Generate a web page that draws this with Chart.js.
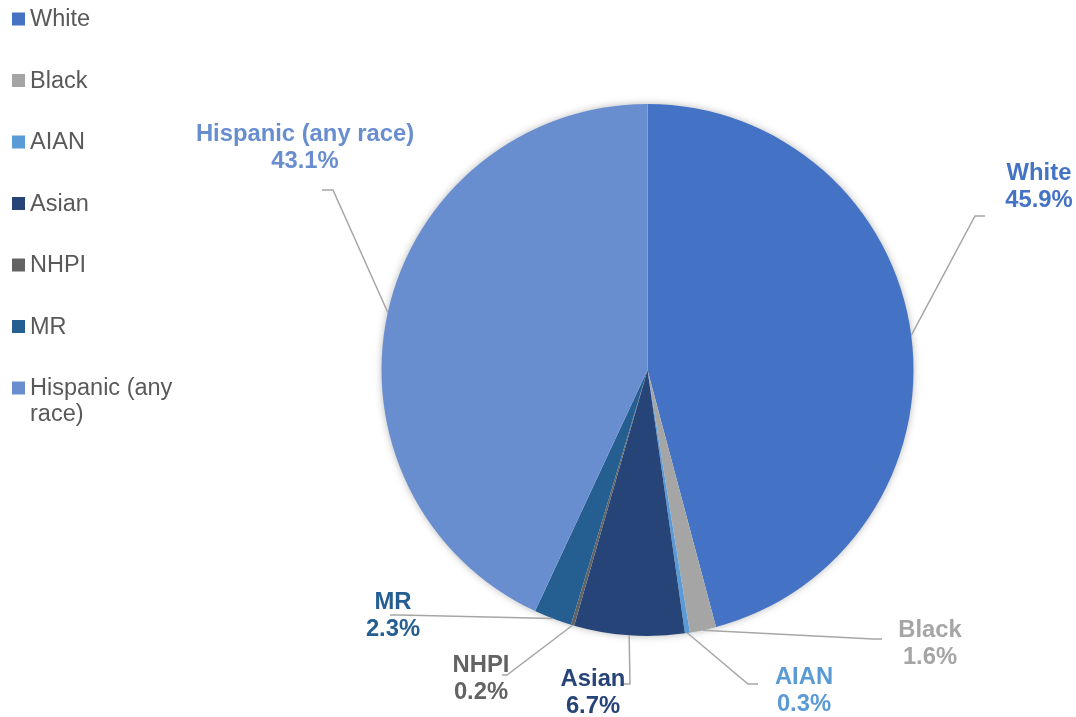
<!DOCTYPE html>
<html>
<head>
<meta charset="utf-8">
<script src="https://cdn.jsdelivr.net/npm/chart.js@4.4.1/dist/chart.umd.min.js"></script>
<style>
  html, body { margin: 0; padding: 0; background: #ffffff; }
  #wrap { width: 1076px; height: 717px; position: relative; }
</style>
</head>
<body>
<div id="wrap"><canvas id="pieCanvas" width="1076" height="717"></canvas></div>
<script>
// Chart data
const categories = ['White', 'Black', 'AIAN', 'Asian', 'NHPI', 'MR', 'Hispanic (any race)'];
const legendLines = [['White'], ['Black'], ['AIAN'], ['Asian'], ['NHPI'], ['MR'], ['Hispanic (any', 'race)']];
const shares = [45.9, 1.6, 0.3, 6.7, 0.2, 2.3, 43.1];
const sliceColors = ['#4472C4', '#A5A5A5', '#5B9BD5', '#264478', '#636363', '#255E91', '#698ED0'];

// Where each data label sits, plus the bend of its leader line (layout only)
const labelLayout = [
    { cx: 1039, cy: 173, elbow: [975, 216], end: [985, 216] },
    { cx: 930, cy: 630, elbow: [873, 639], end: [882, 639] },
    { cx: 804, cy: 677, elbow: [748, 684], end: [758, 684] },
    { cx: 593, cy: 679, elbow: [630, 684], end: [622, 684] },
    { cx: 481, cy: 665, elbow: [507, 675], end: [502, 675] },
    { cx: 393, cy: 602, elbow: [400, 615], end: [390, 615] },
    { cx: 305, cy: 134, elbow: [333, 190], end: [322, 190] }
];

const FONT = '"Liberation Sans", Arial, sans-serif';

// Soft shadow behind the whole pie
const pieShadow = {
    id: 'pieShadow',
    beforeDatasetsDraw(chart) {
        const arc = chart.getDatasetMeta(0).data[0];
        if (!arc) return;
        const ctx = chart.ctx;
        ctx.save();
        ctx.shadowColor = 'rgba(0,0,0,0.35)';
        ctx.shadowBlur = 9;
        ctx.beginPath();
        ctx.arc(arc.x, arc.y, arc.outerRadius - 1, 0, Math.PI * 2);
        ctx.fillStyle = '#ffffff';
        ctx.fill();
        ctx.restore();
    }
};

// Leader lines and category / percent labels
const leaderLabels = {
    id: 'leaderLabels',
    afterDatasetsDraw(chart) {
        const ctx = chart.ctx;
        const meta = chart.getDatasetMeta(0);
        meta.data.forEach((arc, i) => {
            const p = arc.getProps(['x', 'y', 'startAngle', 'endAngle', 'outerRadius'], true);
            const mid = (p.startAngle + p.endAngle) / 2;
            const sx = p.x + Math.cos(mid) * p.outerRadius;
            const sy = p.y + Math.sin(mid) * p.outerRadius;
            const lay = labelLayout[i];

            ctx.save();
            ctx.strokeStyle = '#A6A6A6';
            ctx.lineWidth = 1.5;
            ctx.beginPath();
            ctx.moveTo(sx, sy);
            ctx.lineTo(lay.elbow[0], lay.elbow[1]);
            ctx.lineTo(lay.end[0], lay.end[1]);
            ctx.stroke();

            ctx.fillStyle = sliceColors[i];
            ctx.font = 'bold 23.8px ' + FONT;
            ctx.textAlign = 'center';
            ctx.textBaseline = 'middle';
            ctx.fillText(categories[i], lay.cx, lay.cy);
            ctx.fillText(shares[i].toFixed(1) + '%', lay.cx, lay.cy + 27);
            ctx.restore();
        });
    }
};

// Legend down the left side
const sideLegend = {
    id: 'sideLegend',
    afterDraw(chart) {
        const ctx = chart.ctx;
        ctx.save();
        ctx.font = '23.5px ' + FONT;
        ctx.textBaseline = 'middle';
        ctx.textAlign = 'left';
        legendLines.forEach((lines, i) => {
            const y = 19 + i * 61.5;
            ctx.fillStyle = sliceColors[i];
            ctx.fillRect(12, y - 6.5, 13, 13);
            ctx.fillStyle = '#595959';
            lines.forEach((t, j) => ctx.fillText(t, 30, y + 1 + j * 26));
        });
        ctx.restore();
    }
};

const ctx = document.getElementById('pieCanvas').getContext('2d');
const pieChart = new Chart(ctx, {
    type: 'pie',
    data: {
        labels: categories,
        datasets: [{
            data: shares,
            backgroundColor: sliceColors,
            borderWidth: 0
        }]
    },
    options: {
        responsive: false,
        animation: false,
        layout: {
            padding: { left: 381, right: 162, top: 104, bottom: 81 }
        },
        plugins: {
            legend: { display: false },
            tooltip: { enabled: false }
        }
    },
    plugins: [pieShadow, leaderLabels, sideLegend]
});
</script>
</body>
</html>
